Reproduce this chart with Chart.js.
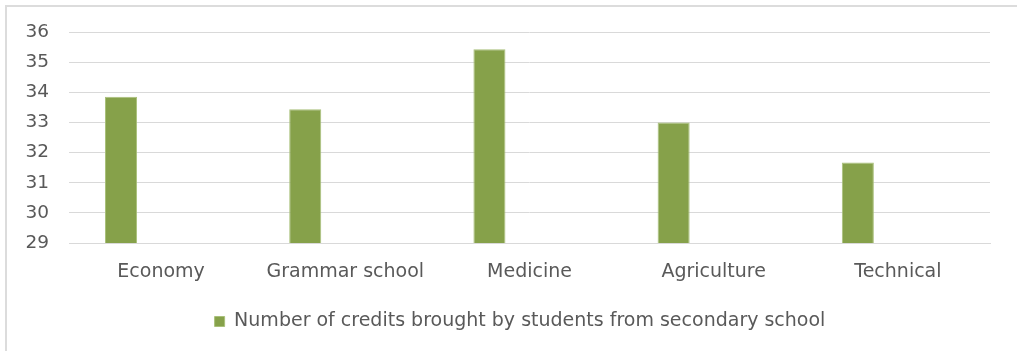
<!DOCTYPE html>
<html>
<head>
<meta charset="utf-8">
<script src="https://cdn.jsdelivr.net/npm/chart.js@4"></script>
<style>
  body { margin: 0; background: #fff; }
  #wrap { position: absolute; left: 0; top: 0; width: 1017px; height: 351px; }
  #frame { position: absolute; left: 5px; top: 5px; width: 1100px; height: 400px;
           border-top: 2px solid #dcdcdc; border-left: 2px solid #dcdcdc; pointer-events: none; }
</style>
</head>
<body>
<div id="wrap"><canvas id="myChart" width="1017" height="351"></canvas></div>
<div id="frame"></div>
<script>
// dados do grafico
var categorias = ['Economy', 'Grammar school', 'Medicine', 'Agriculture', 'Technical'];
var creditos = [33.85, 33.44, 35.43, 33.0, 31.67];
var vazio = [null, null, null, null, null];
var serieNome = 'Number of credits brought by students from secondary school';
var yMin = 29, yMax = 36;

var fonte = "'DejaVu Sans', sans-serif";
var cinza = '#595959';

// empurra a legenda um pouco pra direita, como no original
var moveLegenda = {
  id: 'moveLegenda',
  afterLayout: function (chart) {
    chart.legend.left += 50;
  }
};

const myChart = new Chart(document.getElementById('myChart'), {
  type: 'bar',
  data: {
    labels: categorias,
    datasets: [{
      label: serieNome,
      data: creditos,
      backgroundColor: '#86a14a',
      borderColor: '#a9c07a',
      borderWidth: 1,
      categoryPercentage: 0.87,
      barPercentage: 0.4
    }, {
      label: '',
      data: vazio,
      backgroundColor: 'rgba(0,0,0,0)',
      categoryPercentage: 0.87,
      barPercentage: 0.4
    }]
  },
  plugins: [moveLegenda],
  options: {
    responsive: false,
    animation: false,
    layout: { padding: { top: 32, right: 27, bottom: 10, left: 0 } },
    plugins: {
      tooltip: { enabled: false },
      legend: {
        position: 'bottom',
        labels: {
          filter: function (item) { return item.text !== ''; },
          font: { family: fonte, size: 19 },
          color: cinza,
          boxWidth: 10,
          boxHeight: 10,
          padding: 8
        }
      }
    },
    scales: {
      y: {
        min: yMin,
        max: yMax,
        ticks: { stepSize: 1, color: cinza, font: { family: fonte, size: 18.5 }, padding: 20 },
        grid: { color: '#d9d9d9', drawTicks: false },
        border: { display: false },
        afterFit: function (axis) { axis.width = 69; }
      },
      x: {
        ticks: { color: cinza, font: { family: fonte, size: 19 }, padding: 18 },
        grid: { display: false, drawTicks: false },
        border: { color: '#d9d9d9' },
        afterFit: function (axis) { axis.height = 61; }
      }
    }
  }
});
</script>
</body>
</html>
